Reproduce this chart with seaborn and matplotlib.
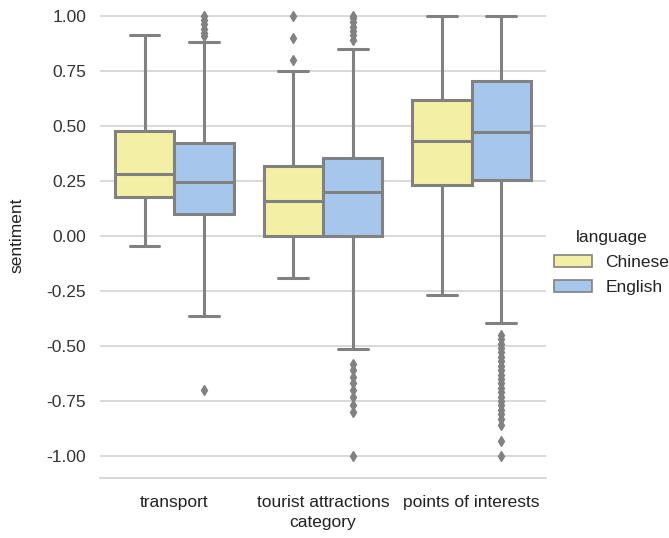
import numpy as np
import pandas as pd
import matplotlib
matplotlib.use("Agg")
import matplotlib.pyplot as plt
import seaborn as sns
from matplotlib.patches import Patch

categories = ["transport", "tourist attractions", "points of interests"]
languages = ["Chinese", "English"]

# box statistics, per (category, language)
q1 = {("transport", "Chinese"): 0.174, ("transport", "English"): 0.100,
      ("tourist attractions", "Chinese"): 0.0, ("tourist attractions", "English"): 0.0,
      ("points of interests", "Chinese"): 0.231, ("points of interests", "English"): 0.253}
median = {("transport", "Chinese"): 0.282, ("transport", "English"): 0.244,
          ("tourist attractions", "Chinese"): 0.158, ("tourist attractions", "English"): 0.200,
          ("points of interests", "Chinese"): 0.430, ("points of interests", "English"): 0.472}
q3 = {("transport", "Chinese"): 0.478, ("transport", "English"): 0.420,
      ("tourist attractions", "Chinese"): 0.317, ("tourist attractions", "English"): 0.355,
      ("points of interests", "Chinese"): 0.618, ("points of interests", "English"): 0.705}
whisker_low = {("transport", "Chinese"): -0.045, ("transport", "English"): -0.365,
               ("tourist attractions", "Chinese"): -0.193, ("tourist attractions", "English"): -0.513,
               ("points of interests", "Chinese"): -0.267, ("points of interests", "English"): -0.396}
whisker_high = {("transport", "Chinese"): 0.91, ("transport", "English"): 0.88,
                ("tourist attractions", "Chinese"): 0.75, ("tourist attractions", "English"): 0.85,
                ("points of interests", "Chinese"): 1.0, ("points of interests", "English"): 1.0}
outliers = {
    ("transport", "Chinese"): [],
    ("transport", "English"): [0.905, 0.92, 0.94, 0.96, 0.98, 1.0, -0.70],
    ("tourist attractions", "Chinese"): [0.80, 0.90, 1.00],
    ("tourist attractions", "English"): [0.89, 0.91, 0.93, 0.95, 0.97, 0.99, 1.0,
                                         -0.58, -0.61, -0.64, -0.67, -0.70, -0.73,
                                         -0.77, -0.80, -1.0],
    ("points of interests", "Chinese"): [],
    ("points of interests", "English"): [-0.45, -0.47, -0.49, -0.51, -0.53, -0.55, -0.57,
                                         -0.59, -0.61, -0.63, -0.65, -0.67, -0.69, -0.71,
                                         -0.73, -0.75, -0.77, -0.79, -0.81, -0.83, -0.86,
                                         -0.93, -1.0],
}

# build a sample per box whose quartiles / whiskers / fliers equal the values above
rows = []
for c in categories:
    for l in languages:
        k = (c, l)
        out = outliers[k]
        m = len(out) + 8
        vals = list(out) + [whisker_low[k], whisker_high[k]] + \
            [q1[k]] * m + [median[k]] * m + [q3[k]] * m
        rows += [(c, l, v) for v in vals]
df = pd.DataFrame(rows, columns=["category", "language", "sentiment"])

sns.set_theme(style="whitegrid")
plt.rcParams["font.family"] = ["Liberation Sans", "DejaVu Sans"]
fs = 12.5

fig = plt.figure(figsize=(6.69, 5.38), dpi=100)
ax = fig.add_axes([0.1495, 0.1115, 0.816 - 0.1495, 1.012 - 0.1115])

gray = "#818181"
palette = {"Chinese": "#f3f0a5", "English": "#a6c6ec"}
sns.boxplot(data=df, x="category", y="sentiment", hue="language",
            order=categories, hue_order=languages, palette=palette,
            saturation=1, width=0.8, linecolor=gray, linewidth=2.2,
            flierprops=dict(marker="d", markerfacecolor=gray, markeredgecolor=gray,
                            markersize=5.5),
            ax=ax, legend=False)

ax.set_ylim(-1.1, 1.1)
ax.set_yticks([1.0, 0.75, 0.5, 0.25, 0.0, -0.25, -0.5, -0.75, -1.0])
ax.set_yticklabels(["1.00", "0.75", "0.50", "0.25", "0.00", "-0.25", "-0.50", "-0.75", "-1.00"])
ax.tick_params(axis="y", labelsize=fs, pad=10, colors="#333333", length=0)
ax.tick_params(axis="x", labelsize=fs, pad=12, colors="#222222", length=0)
ax.set_ylabel("sentiment", fontsize=fs, color="#222222", labelpad=16)
ax.set_xlabel("category", fontsize=fs, color="#222222", labelpad=4)
ax.grid(axis="y", color="#cfcfcf", linewidth=1.1)
ax.grid(axis="x", visible=False)
for s in ["top", "right", "left"]:
    ax.spines[s].set_visible(False)
ax.spines["bottom"].set_color("#cfcfcf")
ax.spines["bottom"].set_linewidth(1.2)

handles = [Patch(facecolor=palette[l], edgecolor=gray, linewidth=1.2) for l in languages]
leg = fig.legend(handles, languages, title="language", loc="center left",
                 bbox_to_anchor=(0.818, 0.512), frameon=False, fontsize=fs,
                 title_fontsize=fs, handlelength=2.2, handletextpad=0.75,
                 labelspacing=0.55, borderaxespad=0)
for t in leg.get_texts():
    t.set_color("#222222")
leg.get_title().set_color("#222222")

fig.savefig("out.png", dpi=100)
